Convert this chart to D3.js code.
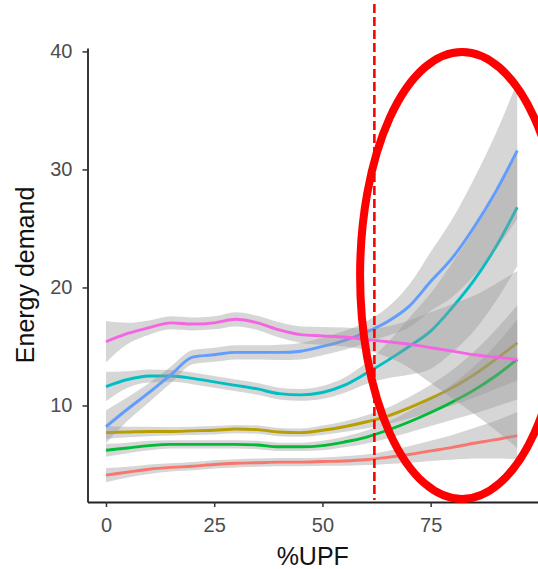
<!DOCTYPE html>
<html>
<head>
<meta charset="utf-8">
<script src="https://cdn.jsdelivr.net/npm/d3@7"></script>
<style>
  body { margin: 0; background: #fff; }
  text { font-family: Arial, "Liberation Sans", sans-serif; }
</style>
</head>
<body>
<div id="chart"></div>
<script>
// %UPF grid
const upf = [0, 5, 10, 15, 20, 25, 30, 35, 40, 45, 50, 55, 60, 65, 70, 75, 80, 85, 90, 95];

// group 1 (red)
const g1_fit = [4.1, 4.35, 4.6, 4.75, 4.85, 5.0, 5.1, 5.15, 5.2, 5.2, 5.25, 5.3, 5.4, 5.6, 5.85, 6.15, 6.45, 6.8, 7.1, 7.45];
const g1_lo  = [3.5, 3.9, 4.2, 4.4, 4.5, 4.65, 4.75, 4.8, 4.85, 4.85, 4.9, 4.9, 4.95, 5.05, 5.15, 5.3, 5.4, 5.5, 5.5, 5.45];
const g1_hi  = [4.7, 4.8, 5.0, 5.1, 5.2, 5.35, 5.45, 5.5, 5.55, 5.55, 5.6, 5.7, 5.85, 6.15, 6.55, 7.0, 7.5, 8.1, 8.7, 9.45];
// group 2 (olive)
const g2_fit = [7.7, 7.75, 7.8, 7.8, 7.85, 7.9, 8.0, 7.95, 7.75, 7.7, 7.9, 8.2, 8.6, 9.1, 9.8, 10.6, 11.5, 12.6, 13.9, 15.3];
const g2_lo  = [7.15, 7.3, 7.4, 7.45, 7.5, 7.55, 7.65, 7.6, 7.4, 7.35, 7.5, 7.75, 8.05, 8.4, 8.9, 9.45, 10.0, 10.65, 11.4, 12.1];
const g2_hi  = [8.25, 8.2, 8.2, 8.15, 8.2, 8.25, 8.35, 8.3, 8.1, 8.05, 8.3, 8.65, 9.15, 9.8, 10.7, 11.75, 13.0, 14.55, 16.4, 18.5];
// group 3 (green)
const g3_fit = [6.2, 6.4, 6.6, 6.7, 6.7, 6.7, 6.7, 6.65, 6.5, 6.5, 6.6, 6.9, 7.3, 7.9, 8.6, 9.4, 10.3, 11.3, 12.5, 13.9];
const g3_lo  = [5.65, 5.95, 6.2, 6.35, 6.35, 6.35, 6.35, 6.3, 6.15, 6.15, 6.2, 6.45, 6.75, 7.2, 7.7, 8.25, 8.8, 9.3, 9.9, 10.5];
const g3_hi  = [6.75, 6.85, 7.0, 7.05, 7.05, 7.05, 7.05, 7.0, 6.85, 6.85, 7.0, 7.35, 7.85, 8.6, 9.5, 10.55, 11.8, 13.3, 15.1, 17.3];
// group 4 (cyan)
const g4_fit = [11.6, 12.2, 12.5, 12.5, 12.3, 12.0, 11.7, 11.4, 11.0, 10.9, 11.1, 11.7, 12.7, 13.8, 15.0, 16.3, 18.3, 20.6, 23.4, 26.8];
const g4_lo  = [10.35, 11.5, 11.95, 12.0, 11.8, 11.5, 11.2, 10.9, 10.5, 10.4, 10.55, 11.05, 11.8, 12.3, 12.6, 13.1, 14.5, 16.3, 18.8, 21.8];
const g4_hi  = [12.85, 12.9, 13.05, 13.0, 12.8, 12.5, 12.2, 11.9, 11.5, 11.4, 11.65, 12.35, 13.6, 15.3, 17.4, 19.5, 22.1, 24.9, 28.0, 31.8];
// group 5 (blue)
const g5_fit = [8.2, 9.7, 11.1, 12.6, 14.1, 14.3, 14.5, 14.5, 14.5, 14.6, 15.0, 15.5, 16.2, 17.1, 18.4, 20.5, 22.5, 25.1, 28.1, 31.6];
const g5_lo  = [6.8, 8.7, 10.3, 11.9, 13.5, 13.7, 13.9, 13.9, 13.85, 13.9, 14.25, 14.7, 15.3, 15.9, 16.6, 18.0, 19.2, 21.0, 23.2, 25.8];
const g5_hi  = [9.6, 10.7, 11.9, 13.3, 14.7, 14.9, 15.1, 15.1, 15.15, 15.3, 15.75, 16.3, 17.1, 18.3, 20.2, 23.0, 25.8, 29.2, 33.0, 37.4];
// group 6 (magenta)
const g6_fit = [15.4, 16.1, 16.6, 17.0, 16.9, 17.0, 17.3, 17.0, 16.4, 16.0, 15.9, 15.8, 15.6, 15.4, 15.2, 14.9, 14.6, 14.3, 14.1, 13.9];
const g6_lo  = [13.65, 15.2, 16.0, 16.45, 16.35, 16.45, 16.7, 16.4, 15.75, 15.3, 15.15, 15.0, 14.7, 14.1, 13.2, 11.9, 10.6, 9.3, 7.9, 6.4];
const g6_hi  = [17.15, 17.0, 17.2, 17.55, 17.45, 17.55, 17.9, 17.6, 17.05, 16.7, 16.65, 16.6, 16.5, 16.7, 17.2, 17.9, 18.6, 19.3, 20.3, 21.4];

const groupColors = ["#F8766D", "#B79F00", "#00BA38", "#00BFC4", "#619CFF", "#F564E3"];
const xTicks = [0, 25, 50, 75];
const yTicks = [10, 20, 30, 40];
const cutoff = 62;   // dashed threshold on %UPF
const highlight = {x0: 58.7, x1: 105.8, y0: 2.07, y1: 39.96};

const groups = [
  [g1_fit, g1_lo, g1_hi], [g2_fit, g2_lo, g2_hi], [g3_fit, g3_lo, g3_hi],
  [g4_fit, g4_lo, g4_hi], [g5_fit, g5_lo, g5_hi], [g6_fit, g6_lo, g6_hi]
].map(function(g, i) {
  return {
    color: groupColors[i],
    pts: upf.map(function(u, j) { return {x: u, fit: g[0][j], lo: g[1][j], hi: g[2][j]}; })
  };
});

const width = 538, height = 569;
const svg = d3.select("#chart").append("svg")
    .attr("width", width)
    .attr("height", height);

const x = d3.scaleLinear().domain([-4.27, 99.8]).range([87.5, 538]);
const y = d3.scaleLinear().domain([1.82, 40.3]).range([502, 47.9]);

const area = d3.area()
    .x(function(d) { return x(d.x); })
    .y0(function(d) { return y(d.lo); })
    .y1(function(d) { return y(d.hi); })
    .curve(d3.curveMonotoneX);

const line = d3.line()
    .x(function(d) { return x(d.x); })
    .y(function(d) { return y(d.fit); })
    .curve(d3.curveMonotoneX);

// ribbons + lines, drawn group by group like geom_smooth
const smooth = svg.append("g");
groups.forEach(function(g) {
  smooth.append("path")
    .attr("d", area(g.pts))
    .attr("fill", "#999999")
    .attr("fill-opacity", 0.4);
  smooth.append("path")
    .attr("d", line(g.pts))
    .attr("fill", "none")
    .attr("stroke", g.color)
    .attr("stroke-width", 2.9);
});

// axes
const xAxis = svg.append("g")
    .attr("transform", "translate(0," + y.range()[0] + ")")
    .call(d3.axisBottom(x).tickValues(xTicks).tickSize(5).tickPadding(11).tickSizeOuter(0));
const yAxis = svg.append("g")
    .attr("transform", "translate(" + x.range()[0] + ",0)")
    .call(d3.axisLeft(y).tickValues(yTicks).tickSize(5).tickPadding(10).tickSizeOuter(0));

[xAxis, yAxis].forEach(function(a) {
  a.select(".domain").attr("stroke", "#222").attr("stroke-width", 1.8);
  a.selectAll(".tick line").attr("stroke", "#333").attr("stroke-width", 1.5);
  a.selectAll(".tick text").attr("fill", "#4D4D4D").style("font-size", "20px");
});

svg.append("text")
    .attr("x", (x.range()[0] + x.range()[1]) / 2)
    .attr("y", 565)
    .attr("text-anchor", "middle")
    .style("font-size", "25px")
    .attr("fill", "#111")
    .text("%UPF");

svg.append("text")
    .attr("transform", "translate(34," + (y.range()[0] + y.range()[1]) / 2 + ") rotate(-90)")
    .attr("text-anchor", "middle")
    .style("font-size", "25px")
    .attr("fill", "#111")
    .text("Energy demand");

// annotations
svg.append("line")
    .attr("x1", x(cutoff)).attr("x2", x(cutoff))
    .attr("y1", 4).attr("y2", 500)
    .attr("stroke", "#FF0000")
    .attr("stroke-width", 2.6)
    .attr("stroke-dasharray", "9,4");

svg.append("ellipse")
    .attr("cx", (x(highlight.x0) + x(highlight.x1)) / 2)
    .attr("cy", (y(highlight.y0) + y(highlight.y1)) / 2)
    .attr("rx", (x(highlight.x1) - x(highlight.x0)) / 2)
    .attr("ry", (y(highlight.y0) - y(highlight.y1)) / 2)
    .attr("fill", "none")
    .attr("stroke", "#FF0000")
    .attr("stroke-width", 8);
</script>
</body>
</html>
